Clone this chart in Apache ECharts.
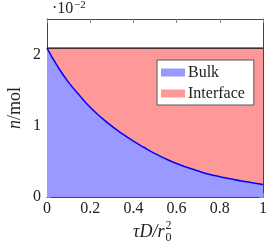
<!DOCTYPE html>
<html><head><meta charset="utf-8">
<script src="https://cdn.jsdelivr.net/npm/echarts@6/dist/echarts.min.js"></script>
<style>html,body{margin:0;padding:0;background:#fff}#c{width:273px;height:248px}</style>
</head><body><div id="c"></div>
<script>
const tau  = [0,0.05,0.1,0.15,0.2,0.25,0.3,0.35,0.4,0.45,0.5,0.55,0.6,0.65,0.7,0.75,0.8,0.85,0.9,0.95,1.0];
const bulk = [2.09,1.83,1.61,1.43,1.26,1.12,0.995,0.885,0.785,0.695,0.61,0.535,0.47,0.415,0.365,0.32,0.285,0.255,0.225,0.20,0.175];
const total = 2.09;
const xTicks = [0,0.2,0.4,0.6,0.8,1];
const yTicks = [0,1,2];
const seriesNames = ['Bulk','Interface'];

const interface_ = bulk.map(b => +(total - b).toFixed(4));
const bulkData = tau.map((t,i)=>[t,bulk[i]]);
// Interface is stacked on top of bulk: its upper edge is bulk + interface
const interTop = tau.map((t,i)=>[t,+(bulk[i]+interface_[i]).toFixed(4)]);
const F = '"Liberation Serif", serif';
const frame = '#444';
const chart = echarts.init(document.getElementById('c'), null, {renderer:'canvas'});
const axBase = {
  type:'value', min:0, axisLine:{show:true,onZero:false,lineStyle:{color:frame,width:1}},
  splitLine:{show:false},
};
const cv = document.createElement('canvas').getContext('2d');
cv.font = 'italic 18px ' + F;
const wMain = cv.measureText('τD/r').width;
const xStart = 133;

chart.setOption({
  animation:false,
  grid:{left:47,right:10,top:19,bottom:51,containLabel:false},
  xAxis:[
    Object.assign({}, axBase, {max:1, interval:0.2, position:'bottom',
      axisTick:{inside:true,length:4,lineStyle:{color:'#888'}, customValues:xTicks},
      axisLabel:{customValues:xTicks, fontFamily:F, fontSize:16, color:'#222', margin:4}}),
    Object.assign({}, axBase, {max:1, interval:0.2, position:'top',
      axisTick:{inside:true,length:4,lineStyle:{color:'#888'}, customValues:xTicks},
      axisLabel:{show:false}})
  ],
  yAxis:[
    Object.assign({}, axBase, {max:2.5, interval:1, position:'left',
      axisTick:{inside:true,length:4,lineStyle:{color:'#888'}, customValues:yTicks},
      axisLabel:{customValues:yTicks, fontFamily:F, fontSize:16, color:'#222', margin:6}}),
    Object.assign({}, axBase, {max:2.5, interval:1, position:'right',
      axisTick:{inside:true,length:4,lineStyle:{color:'#888'}, customValues:yTicks},
      axisLabel:{show:false}})
  ],
  legend:{
    orient:'vertical', left:157, top:60, padding:[4,9,3,4], itemGap:4,
    backgroundColor:'#fff', borderColor:'#555', borderWidth:1, borderRadius:0,
    itemWidth:24, itemHeight:8, icon:'rect',
    textStyle:{fontFamily:F, fontSize:16, lineHeight:17, color:'#222', padding:[0,0,0,-2]},
    data:[{name:seriesNames[0], itemStyle:{color:'#9999ff'}},{name:seriesNames[1], itemStyle:{color:'#ff9999'}}]
  },
  series:[
    {name:seriesNames[1], type:'line', data:interTop, smooth:true, symbol:'none',
     itemStyle:{color:'#ff9999'}, lineStyle:{color:'#000',width:1.3}, areaStyle:{color:'#ff9999',opacity:1}, z:2},
    {name:seriesNames[0], type:'line', data:bulkData, smooth:true, symbol:'none',
     itemStyle:{color:'#9999ff'}, lineStyle:{color:'#0000ff',width:1.5}, areaStyle:{color:'#9999ff',opacity:1}, z:3}
  ],
  graphic:[
    {type:'text', x:52, y:9, style:{text:'·10', font:'16px '+F, fill:'#222', verticalAlign:'middle'}},
    {type:'text', x:74, y:5, style:{text:'−2', font:'11px '+F, fill:'#222', verticalAlign:'middle'}},
    {type:'text', x:15, y:108, rotation:Math.PI/2,
     style:{text:'{i|n}/mol', align:'center', verticalAlign:'middle', font:'18px '+F, fill:'#222',
       rich:{i:{font:'italic 18px '+F, fill:'#222'}}}},
    {type:'text', x:xStart, y:232, style:{text:'τD/r', font:'italic 18px '+F, fill:'#222', verticalAlign:'middle'}},
    {type:'text', x:xStart+wMain+1, y:226, style:{text:'2', font:'12px '+F, fill:'#222', verticalAlign:'middle'}},
    {type:'text', x:xStart+wMain+1, y:238, style:{text:'0', font:'12px '+F, fill:'#222', verticalAlign:'middle'}}
  ]
});
</script></body></html>
